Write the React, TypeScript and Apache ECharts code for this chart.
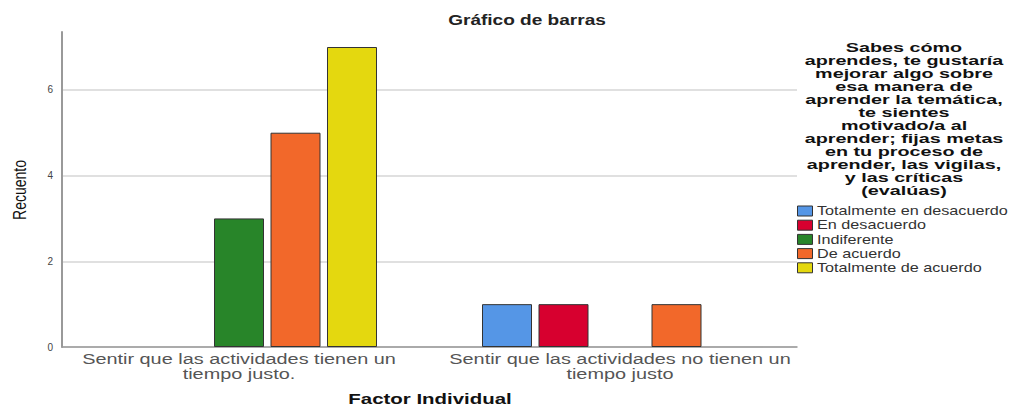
import React, { useEffect, useRef } from "react";
import * as echarts from "echarts";

const categories = [
  "Sentir que las actividades tienen un\ntiempo justo.",
  "Sentir que las actividades no tienen un\ntiempo justo",
];
const seriesNames = [
  "Totalmente en desacuerdo",
  "En desacuerdo",
  "Indiferente",
  "De acuerdo",
  "Totalmente de acuerdo",
];
const totalmenteDesacuerdo = [null, 1];
const enDesacuerdo = [null, 1];
const indiferente = [3, null];
const deAcuerdo = [5, 1];
const totalmenteAcuerdo = [7, null];
const seriesValues = [totalmenteDesacuerdo, enDesacuerdo, indiferente, deAcuerdo, totalmenteAcuerdo];
const colors = ["#5596e6", "#d7002f", "#288529", "#f2682a", "#e4d80f"];
const chartTitle = "Gráfico de barras";
const xAxisName = "Factor Individual";
const yAxisName = "Recuento";
const legendTitle =
  "Sabes cómo\naprendes, te gustaría\nmejorar algo sobre\nesa manera de\naprender la temática,\nte sientes\nmotivado/a al\naprender; fijas metas\nen tu proceso de\naprender, las vigilas,\ny las críticas\n(evalúas)";

const FONT = "Liberation Sans, Arial, sans-serif";

export default function App() {
  const ref = useRef<HTMLDivElement>(null);
  useEffect(() => {
    const chart = echarts.init(ref.current!, null, { renderer: "svg" });
    chart.setOption({
      animation: false,
      backgroundColor: "#ffffff",
      grid: [
        { left: 48.5, right: 202.5, top: 32, bottom: 60 },
        { left: 62, right: 216, top: 32, bottom: 60 },
      ],
      xAxis: [
        {
          type: "category",
          gridIndex: 0,
          data: categories,
          axisLine: { show: false },
          axisTick: { show: false },
          axisLabel: { show: false },
        },
        {
          type: "value",
          gridIndex: 1,
          min: 0,
          max: 1,
          axisLine: { show: true, lineStyle: { color: "#999", width: 1.5 } },
          axisTick: { show: false },
          axisLabel: { show: false },
          splitLine: { show: false },
        },
      ],
      yAxis: [
        {
          type: "value",
          gridIndex: 0,
          min: 0,
          max: 7.35,
          axisLine: { show: false },
          axisTick: { show: false },
          axisLabel: { show: false },
          splitLine: { show: false },
        },
        {
          type: "value",
          gridIndex: 1,
          min: 0,
          max: 7.35,
          interval: 2,
          axisLine: { show: true, lineStyle: { color: "#999", width: 2 } },
          axisTick: { show: false },
          axisLabel: {
            fontFamily: FONT,
            fontSize: 10,
            color: "#444",
            margin: 9,
            showMaxLabel: false,
            formatter: (v: number) => (v % 2 === 0 ? String(v) : ""),
          },
          splitLine: { show: true, showMaxLine: false, lineStyle: { color: "#d6d6d6", width: 1.5 } },
        },
      ],
      series: seriesNames.map((name, i) => ({
        name,
        type: "bar",
        xAxisIndex: 0,
        yAxisIndex: 0,
        data: seriesValues[i],
        barWidth: 50,
        barGap: "13%",
        itemStyle: { color: colors[i], borderColor: "#333", borderWidth: 1 },
      })),
    });

    const labelGraphics = categories.map((c, i) => {
      const x = chart.convertToPixel({ xAxisIndex: 0 }, c) as number;
      return {
        type: "text",
        id: "xlab" + i,
        x,
        y: 351,
        scaleX: 1.42,
        style: {
          text: c,
          fontFamily: FONT,
          fontSize: 14,
          lineHeight: 15.5,
          fill: "#555",
          align: "center",
          verticalAlign: "top",
        },
      };
    });

    const legendItems = seriesNames.flatMap((name, i) => [
      {
        type: "rect",
        id: "lgr" + i,
        shape: { x: 797.5, y: 206 + i * 14.2, width: 15, height: 10 },
        style: { fill: colors[i], stroke: "#333", lineWidth: 1 },
      },
      {
        type: "text",
        id: "lgt" + i,
        x: 817,
        y: 211 + i * 14.2,
        scaleX: 1.35,
        style: {
          text: name,
          fontFamily: FONT,
          fontSize: 12,
          fill: "#333",
          align: "left",
          verticalAlign: "middle",
        },
      },
    ]);

    chart.setOption({
      graphic: [
        {
          type: "text",
          id: "title",
          x: 527,
          y: 20,
          scaleX: 1.36,
          style: {
            text: chartTitle,
            fontFamily: FONT,
            fontSize: 14,
            fontWeight: "bold",
            fill: "#222",
            align: "center",
            verticalAlign: "middle",
          },
        },
        {
          type: "text",
          id: "xname",
          x: 430,
          y: 399,
          scaleX: 1.46,
          style: {
            text: xAxisName,
            fontFamily: FONT,
            fontSize: 14,
            fontWeight: "bold",
            fill: "#111",
            align: "center",
            verticalAlign: "middle",
          },
        },
        {
          type: "text",
          id: "yname",
          x: 20,
          y: 190,
          rotation: Math.PI / 2,
          scaleY: 1.25,
          style: {
            text: yAxisName,
            fontFamily: FONT,
            fontSize: 14,
            fill: "#111",
            align: "center",
            verticalAlign: "middle",
          },
        },
        {
          type: "text",
          id: "legtitle",
          x: 904,
          y: 41.5,
          scaleX: 1.52,
          style: {
            text: legendTitle,
            fontFamily: FONT,
            fontSize: 13,
            fontWeight: "bold",
            lineHeight: 13,
            fill: "#111",
            align: "center",
            verticalAlign: "top",
          },
        },
        ...labelGraphics,
        ...legendItems,
      ],
    });
    return () => chart.dispose();
  }, []);
  return <div ref={ref} style={{ width: 1013, height: 407, position: "absolute", left: 0, top: 0 }} />;
}
